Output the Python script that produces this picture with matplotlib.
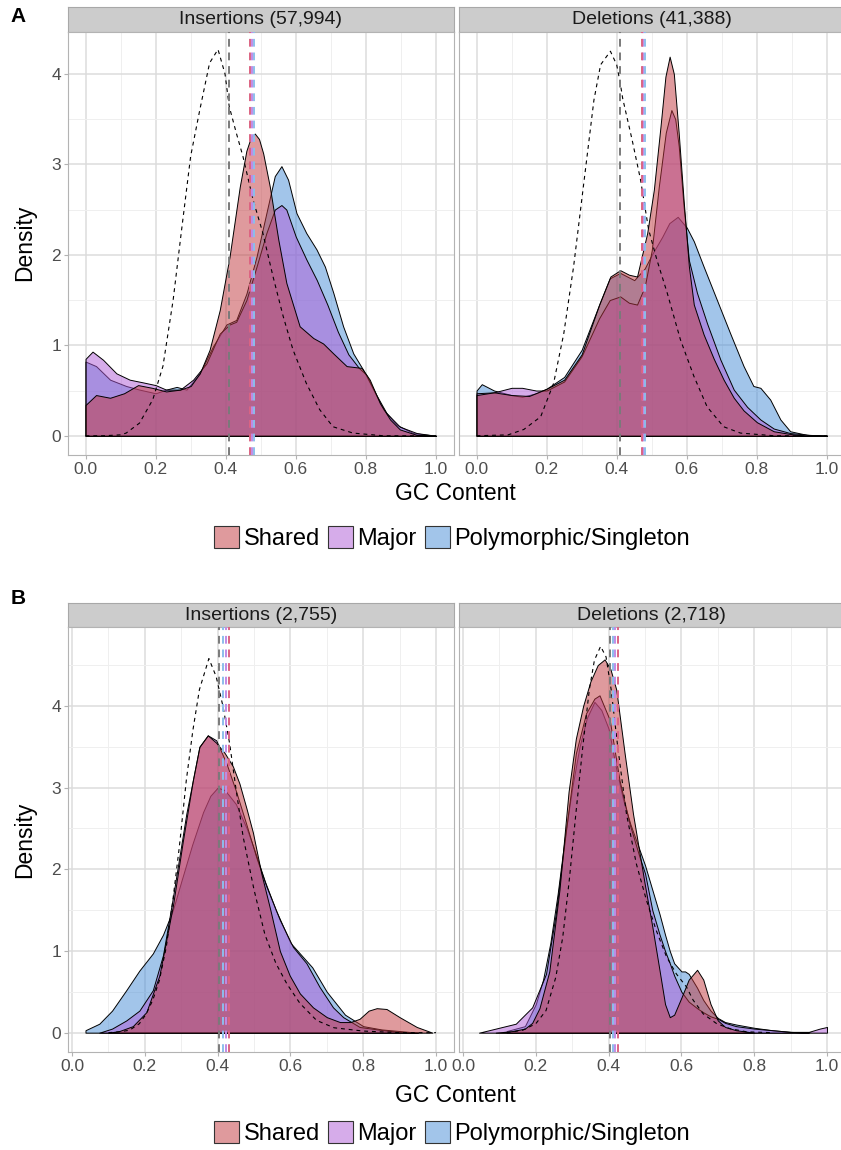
import matplotlib
matplotlib.use("Agg")
import matplotlib.pyplot as plt
from matplotlib.colors import to_rgba
from matplotlib.patches import Patch
from matplotlib.ticker import MultipleLocator, FormatStrFormatter

plt.rcParams['font.family'] = ['Liberation Sans', 'DejaVu Sans']

categories = ["Shared", "Major", "Polymorphic/Singleton"]
fill_colors = ["#C0373C", "#AF5AD7", "#468CD7"]
mean_colors = ["#DC6482", "#C08CE6", "#8CBEEB"]
panel_titles = ["Insertions (57,994)", "Deletions (41,388)",
                "Insertions (2,755)", "Deletions (2,718)"]

# ---- A: insertions ----
a_ins_shared_x = [0.0, 0.03, 0.07, 0.11, 0.15, 0.19, 0.23, 0.27, 0.30, 0.326, 0.354, 0.383, 0.411, 0.44, 0.459, 0.472, 0.483, 0.495, 0.507, 0.526, 0.55, 0.573, 0.611, 0.65, 0.678, 0.707, 0.745, 0.788, 0.811, 0.84, 0.869, 0.897, 0.945, 1.0]
a_ins_shared_y = [0.34, 0.45, 0.42, 0.47, 0.56, 0.53, 0.49, 0.51, 0.55, 0.69, 0.95, 1.39, 1.98, 2.75, 3.15, 3.3, 3.34, 3.28, 3.12, 2.75, 2.17, 1.69, 1.21, 1.08, 1.02, 0.91, 0.77, 0.75, 0.62, 0.36, 0.18, 0.07, 0.01, 0.0]
a_ins_major_x = [0.0, 0.02, 0.05, 0.088, 0.126, 0.164, 0.2, 0.23, 0.27, 0.307, 0.345, 0.383, 0.411, 0.43, 0.459, 0.488, 0.516, 0.54, 0.559, 0.573, 0.6, 0.63, 0.66, 0.69, 0.72, 0.75, 0.78, 0.8, 0.83, 0.859, 0.897, 0.945, 1.0]
a_ins_major_y = [0.85, 0.93, 0.84, 0.69, 0.62, 0.59, 0.56, 0.51, 0.51, 0.62, 0.8, 1.13, 1.23, 1.26, 1.5, 1.87, 2.24, 2.5, 2.55, 2.5, 2.2, 1.95, 1.72, 1.45, 1.15, 0.9, 0.75, 0.68, 0.45, 0.25, 0.1, 0.03, 0.0]
a_ins_poly_x = [0.0, 0.03, 0.07, 0.116, 0.154, 0.2, 0.23, 0.26, 0.288, 0.326, 0.364, 0.402, 0.43, 0.459, 0.488, 0.516, 0.54, 0.559, 0.578, 0.602, 0.63, 0.659, 0.683, 0.707, 0.735, 0.764, 0.792, 0.821, 0.85, 0.888, 0.935, 1.0]
a_ins_poly_y = [0.82, 0.77, 0.62, 0.55, 0.51, 0.47, 0.51, 0.54, 0.51, 0.69, 0.99, 1.23, 1.28, 1.57, 1.98, 2.46, 2.87, 2.98, 2.83, 2.46, 2.24, 2.06, 1.87, 1.58, 1.21, 0.91, 0.73, 0.51, 0.29, 0.12, 0.03, 0.0]
genome_a_ins_x = [0.0, 0.05, 0.1, 0.116, 0.154, 0.192, 0.221, 0.25, 0.273, 0.3, 0.326, 0.354, 0.378, 0.398, 0.41, 0.43, 0.449, 0.478, 0.506, 0.535, 0.564, 0.592, 0.63, 0.668, 0.706, 0.763, 0.85, 1.0]
genome_a_ins_y = [0.0, 0.0, 0.01, 0.03, 0.14, 0.4, 0.77, 1.5, 2.24, 3.09, 3.6, 4.12, 4.27, 4.0, 3.64, 3.35, 3.09, 2.61, 2.24, 1.76, 1.32, 0.95, 0.58, 0.29, 0.1, 0.03, 0.0, 0.0]
a_ins_means = [0.470, 0.475, 0.480]
a_ins_genome_mean = 0.408

# ---- A: deletions ----
a_del_shared_x = [0.0, 0.05, 0.1, 0.15, 0.2, 0.25, 0.3, 0.35, 0.382, 0.41, 0.435, 0.458, 0.487, 0.506, 0.525, 0.539, 0.551, 0.563, 0.577, 0.591, 0.606, 0.62, 0.648, 0.677, 0.705, 0.734, 0.762, 0.8, 0.848, 0.895, 0.94, 1.0]
a_del_shared_y = [0.45, 0.48, 0.45, 0.44, 0.52, 0.62, 0.9, 1.45, 1.76, 1.83, 1.78, 1.76, 2.24, 2.72, 3.42, 3.97, 4.19, 4.0, 3.34, 2.6, 1.87, 1.45, 1.12, 0.85, 0.62, 0.42, 0.28, 0.15, 0.05, 0.02, 0.0, 0.0]
a_del_major_x = [0.0, 0.05, 0.1, 0.13, 0.17, 0.2, 0.25, 0.3, 0.35, 0.38, 0.41, 0.435, 0.458, 0.48, 0.5, 0.52, 0.54, 0.556, 0.567, 0.577, 0.591, 0.606, 0.629, 0.658, 0.696, 0.734, 0.772, 0.81, 0.848, 0.895, 0.95, 1.0]
a_del_major_y = [0.47, 0.48, 0.53, 0.53, 0.5, 0.5, 0.6, 0.88, 1.3, 1.5, 1.54, 1.47, 1.45, 1.65, 2.05, 2.75, 3.35, 3.6, 3.5, 3.2, 2.53, 1.94, 1.58, 1.24, 0.84, 0.51, 0.32, 0.18, 0.08, 0.03, 0.01, 0.0]
a_del_poly_x = [0.0, 0.015, 0.05, 0.1, 0.13, 0.17, 0.2, 0.25, 0.3, 0.35, 0.38, 0.41, 0.45, 0.48, 0.5, 0.53, 0.55, 0.574, 0.6, 0.62, 0.648, 0.686, 0.724, 0.762, 0.79, 0.81, 0.838, 0.867, 0.895, 0.943, 1.0]
a_del_poly_y = [0.5, 0.57, 0.5, 0.45, 0.43, 0.47, 0.52, 0.65, 0.95, 1.45, 1.74, 1.8, 1.72, 1.85, 2.0, 2.2, 2.35, 2.42, 2.3, 2.15, 1.87, 1.5, 1.13, 0.77, 0.55, 0.53, 0.4, 0.18, 0.05, 0.01, 0.0]
genome_a_del_x = [0.0, 0.09, 0.135, 0.183, 0.22, 0.249, 0.277, 0.306, 0.335, 0.354, 0.382, 0.4, 0.41, 0.417, 0.444, 0.468, 0.491, 0.515, 0.544, 0.582, 0.62, 0.658, 0.705, 0.753, 0.85, 1.0]
genome_a_del_y = [0.0, 0.01, 0.07, 0.21, 0.58, 1.13, 1.87, 2.79, 3.71, 4.1, 4.25, 4.1, 3.9, 3.73, 3.27, 2.83, 2.28, 1.94, 1.58, 1.06, 0.66, 0.32, 0.1, 0.03, 0.0, 0.0]
a_del_means = [0.472, 0.476, 0.481]
a_del_genome_mean = 0.410

# ---- B: insertions ----
b_ins_shared_x = [0.1, 0.13, 0.167, 0.204, 0.24, 0.277, 0.305, 0.332, 0.35, 0.373, 0.396, 0.42, 0.442, 0.46, 0.479, 0.497, 0.52, 0.545, 0.571, 0.598, 0.626, 0.662, 0.7, 0.736, 0.765, 0.79, 0.815, 0.837, 0.864, 0.9, 0.947, 0.99]
b_ins_shared_y = [0.0, 0.02, 0.08, 0.25, 0.7, 1.55, 2.36, 3.09, 3.5, 3.64, 3.55, 3.42, 3.26, 3.05, 2.75, 2.45, 1.95, 1.5, 1.0, 0.7, 0.48, 0.31, 0.19, 0.13, 0.13, 0.17, 0.27, 0.3, 0.29, 0.19, 0.07, 0.0]
b_ins_major_x = [0.075, 0.11, 0.149, 0.185, 0.222, 0.25, 0.277, 0.314, 0.35, 0.373, 0.396, 0.424, 0.451, 0.479, 0.506, 0.534, 0.571, 0.607, 0.644, 0.68, 0.717, 0.745, 0.79, 0.855, 0.9, 0.95]
b_ins_major_y = [0.0, 0.05, 0.15, 0.27, 0.52, 0.95, 1.65, 2.68, 3.5, 3.64, 3.58, 3.3, 2.95, 2.55, 2.15, 1.79, 1.38, 1.05, 0.85, 0.56, 0.31, 0.19, 0.07, 0.03, 0.01, 0.0]
b_ins_poly_x = [0.037, 0.075, 0.11, 0.149, 0.185, 0.222, 0.25, 0.277, 0.3, 0.33, 0.36, 0.38, 0.4, 0.42, 0.45, 0.48, 0.5, 0.53, 0.56, 0.6, 0.63, 0.66, 0.7, 0.75, 0.8, 0.85, 0.9, 0.95]
b_ins_poly_y = [0.03, 0.11, 0.27, 0.52, 0.76, 0.97, 1.2, 1.5, 1.85, 2.3, 2.7, 2.9, 3.0, 2.97, 2.8, 2.5, 2.25, 1.85, 1.5, 1.1, 0.95, 0.8, 0.5, 0.22, 0.08, 0.04, 0.02, 0.0]
genome_b_ins_x = [0.1, 0.13, 0.158, 0.185, 0.204, 0.222, 0.24, 0.259, 0.277, 0.295, 0.314, 0.332, 0.35, 0.376, 0.396, 0.415, 0.433, 0.45, 0.47, 0.5, 0.53, 0.56, 0.59, 0.626, 0.672, 0.72, 0.8, 0.9, 1.0]
genome_b_ins_y = [0.0, 0.01, 0.03, 0.11, 0.23, 0.4, 0.64, 1.05, 1.62, 2.28, 3.09, 3.7, 4.2, 4.58, 4.36, 3.99, 3.54, 3.0, 2.4, 1.75, 1.2, 0.85, 0.6, 0.36, 0.15, 0.06, 0.02, 0.0, 0.0]
b_ins_means = [0.430, 0.423, 0.416]
b_ins_genome_mean = 0.405

# ---- B: deletions ----
b_del_shared_x = [0.09, 0.136, 0.17, 0.19, 0.21, 0.237, 0.265, 0.29, 0.31, 0.33, 0.35, 0.37, 0.389, 0.405, 0.421, 0.444, 0.467, 0.485, 0.5, 0.52, 0.54, 0.555, 0.568, 0.58, 0.6, 0.62, 0.643, 0.66, 0.68, 0.7, 0.72, 0.75, 0.8]
b_del_shared_y = [0.0, 0.02, 0.05, 0.12, 0.3, 0.75, 1.75, 2.95, 3.6, 4.0, 4.3, 4.5, 4.57, 4.45, 4.2, 3.42, 2.68, 2.2, 1.8, 1.3, 0.76, 0.35, 0.19, 0.22, 0.43, 0.65, 0.77, 0.65, 0.35, 0.15, 0.07, 0.03, 0.0]
b_del_major_x = [0.044, 0.09, 0.145, 0.19, 0.228, 0.255, 0.283, 0.31, 0.338, 0.361, 0.375, 0.403, 0.43, 0.458, 0.485, 0.5, 0.52, 0.54, 0.555, 0.568, 0.58, 0.6, 0.62, 0.643, 0.66, 0.68, 0.7, 0.72, 0.75, 0.8, 0.85, 0.9, 0.95, 0.98, 1.0]
b_del_major_y = [0.0, 0.05, 0.11, 0.31, 0.72, 1.46, 2.48, 3.42, 3.91, 4.09, 4.13, 3.83, 3.09, 2.55, 2.15, 1.95, 1.5, 1.2, 1.0, 0.85, 0.7, 0.5, 0.38, 0.3, 0.25, 0.2, 0.17, 0.12, 0.08, 0.05, 0.03, 0.01, 0.01, 0.05, 0.07]
b_del_poly_x = [0.12, 0.17, 0.2, 0.22, 0.24, 0.26, 0.28, 0.3, 0.32, 0.34, 0.361, 0.38, 0.4, 0.42, 0.44, 0.46, 0.48, 0.5, 0.52, 0.54, 0.555, 0.568, 0.58, 0.6, 0.61, 0.62, 0.643, 0.66, 0.68, 0.7, 0.72, 0.75, 0.8, 0.85, 0.9, 0.95]
b_del_poly_y = [0.02, 0.08, 0.35, 0.65, 1.1, 1.7, 2.4, 3.0, 3.5, 3.85, 4.05, 3.95, 3.72, 3.25, 2.85, 2.55, 2.3, 2.05, 1.75, 1.45, 1.2, 1.0, 0.85, 0.75, 0.75, 0.72, 0.55, 0.4, 0.27, 0.18, 0.13, 0.1, 0.06, 0.03, 0.01, 0.0]
genome_b_del_x = [0.12, 0.164, 0.2, 0.228, 0.255, 0.274, 0.292, 0.31, 0.329, 0.347, 0.361, 0.378, 0.393, 0.407, 0.425, 0.449, 0.476, 0.504, 0.531, 0.559, 0.586, 0.614, 0.632, 0.66, 0.697, 0.733, 0.78, 0.85]
genome_b_del_y = [0.0, 0.03, 0.11, 0.27, 0.68, 1.17, 1.87, 2.68, 3.5, 4.2, 4.56, 4.73, 4.6, 4.2, 3.5, 2.68, 2.07, 1.62, 1.25, 0.93, 0.72, 0.56, 0.4, 0.23, 0.11, 0.05, 0.01, 0.0]
b_del_means = [0.427, 0.418, 0.412]
b_del_genome_mean = 0.403

W, H = 841, 1150
fig = plt.figure(figsize=(W / 100, H / 100), dpi=100)


def px_axes(left, top, right, bottom):
    """Add axes given in pixel coordinates measured from the top-left corner."""
    return fig.add_axes([left / W, 1 - bottom / H, (right - left) / W, (bottom - top) / H])


def draw_strip(left, top, right, bottom, title):
    sax = px_axes(left, top, right, bottom)
    sax.set_facecolor("#CCCCCC")
    sax.set_xticks([])
    sax.set_yticks([])
    for spine in sax.spines.values():
        spine.set_color("#A8A8A8")
        spine.set_linewidth(0.8)
    sax.text(0.5, 0.48, title, ha="center", va="center", fontsize=14,
             color="#1A1A1A", transform=sax.transAxes)


def draw_panel(ax, curves, genome, means, genome_mean, xlim, ylim, show_y):
    ax.set_xlim(xlim)
    ax.set_ylim(ylim)
    ax.xaxis.set_major_locator(MultipleLocator(0.2))
    ax.xaxis.set_minor_locator(MultipleLocator(0.1))
    ax.yaxis.set_major_locator(MultipleLocator(1))
    ax.yaxis.set_minor_locator(MultipleLocator(0.5))
    ax.xaxis.set_major_formatter(FormatStrFormatter("%.1f"))
    ax.grid(which="major", color="#DCDCDC", lw=1.1)
    ax.grid(which="minor", color="#EFEFEF", lw=0.7)
    ax.set_axisbelow(True)
    for spine in ax.spines.values():
        spine.set_color("#B3B3B3")
        spine.set_linewidth(0.8)
    ax.tick_params(which="major", length=3, width=0.8, color="#B3B3B3",
                   labelsize=12.5, labelcolor="#4D4D4D", pad=2)
    ax.tick_params(which="minor", length=0)
    if not show_y:
        ax.tick_params(axis="y", which="both", length=0, labelleft=False)

    # polymorphic first, shared last so it sits on top
    for i in (2, 1, 0):
        x, y = curves[i]
        ax.fill_between(x, y, 0, facecolor=to_rgba(fill_colors[i], 0.5),
                        edgecolor="black", lw=0.7, zorder=2)

    gx, gy = genome
    ax.plot(gx, gy, color="black", lw=0.8, dashes=(3.5, 3.5), zorder=4)

    ax.axvline(genome_mean, color="#7A7A7A", lw=1.4, dashes=(4, 3), zorder=5)
    for i in (2, 1, 0):
        ax.axvline(means[i], color=mean_colors[i], lw=1.4, dashes=(4, 3), zorder=5)


panels = [
    # left, right, strip top, panel top, panel bottom
    (68, 453.5, 7, 32, 455, panel_titles[0],
     [(a_ins_shared_x, a_ins_shared_y), (a_ins_major_x, a_ins_major_y), (a_ins_poly_x, a_ins_poly_y)],
     (genome_a_ins_x, genome_a_ins_y), a_ins_means, a_ins_genome_mean,
     (-0.05, 1.05), (-0.2125, 4.4625), True),
    (459, 844.5, 7, 32, 455, panel_titles[1],
     [(a_del_shared_x, a_del_shared_y), (a_del_major_x, a_del_major_y), (a_del_poly_x, a_del_poly_y)],
     (genome_a_del_x, genome_a_del_y), a_del_means, a_del_genome_mean,
     (-0.05, 1.05), (-0.2125, 4.4625), False),
    (68, 453.5, 603, 627, 1052, panel_titles[2],
     [(b_ins_shared_x, b_ins_shared_y), (b_ins_major_x, b_ins_major_y), (b_ins_poly_x, b_ins_poly_y)],
     (genome_b_ins_x, genome_b_ins_y), b_ins_means, b_ins_genome_mean,
     (-0.011, 1.048), (-0.2365, 4.9665), True),
    (459, 844.5, 603, 627, 1052, panel_titles[3],
     [(b_del_shared_x, b_del_shared_y), (b_del_major_x, b_del_major_y), (b_del_poly_x, b_del_poly_y)],
     (genome_b_del_x, genome_b_del_y), b_del_means, b_del_genome_mean,
     (-0.011, 1.048), (-0.2365, 4.9665), False),
]

for (left, right, s_top, p_top, p_bottom, title, curves, genome, means,
     gmean, xlim, ylim, show_y) in panels:
    draw_strip(left, s_top, right, p_top, title)
    ax = px_axes(left, p_top, right, p_bottom)
    draw_panel(ax, curves, genome, means, gmean, xlim, ylim, show_y)

# axis titles, legends and panel letters for A and B
handles = [Patch(facecolor=to_rgba(c, 0.5), edgecolor="#333333", lw=0.8) for c in fill_colors]
for letter, letter_y, dens_y, gc_y, leg_y in [("A", 17, 243, 494, 538),
                                              ("B", 598, 840, 1095, 1133)]:
    fig.text(18 / W, 1 - letter_y / H, letter, fontsize=15, fontweight="bold",
             ha="center", va="center")
    fig.text(25 / W, 1 - dens_y / H, "Density", rotation=90, fontsize=16.5,
             ha="center", va="center")
    fig.text(455 / W, 1 - gc_y / H, "GC Content", fontsize=16.5,
             ha="center", va="center")
    fig.legend(handles, categories, loc="center", bbox_to_anchor=(452 / W, 1 - leg_y / H),
               ncol=3, frameon=False, fontsize=17, handlelength=1.05, handleheight=1.05,
               handletextpad=0.2, columnspacing=0.35, borderaxespad=0)

fig.savefig("out.png", dpi=100, facecolor="white")
